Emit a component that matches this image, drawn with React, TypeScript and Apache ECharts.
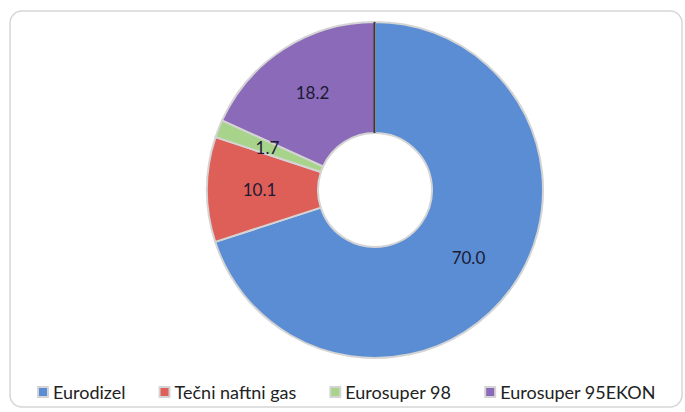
import React, { useEffect, useRef } from "react";
import * as echarts from "echarts";

const categories = ["Eurodizel", "Tečni naftni gas", "Eurosuper 98", "Eurosuper 95EKON"];
const values = [70.0, 10.1, 1.7, 18.2];
const colors = ["#5A8DD3", "#DE5E58", "#A7D38B", "#8A6AB9"];

export default function App() {
  const ref = useRef<HTMLDivElement>(null);
  useEffect(() => {
    if (!ref.current) return;
    const chart = echarts.init(ref.current, null, { renderer: "svg" });
    const font = "Lato, 'Open Sans', sans-serif";
    chart.setOption({
      animation: false,
      backgroundColor: "#ffffff",
      graphic: [
        {
          type: "rect",
          shape: { x: 10, y: 11, width: 672, height: 396, r: 12 },
          style: { fill: "none", stroke: "#d6d6d6", lineWidth: 1.5 },
          z: -1,
        },
        {
          type: "line",
          shape: { x1: 374.5, y1: 22, x2: 374.5, y2: 133 },
          style: { stroke: "#3a3a3a", lineWidth: 2 },
          z: 10,
        },
      ],
      legend: {
        bottom: 6,
        left: 32,
        icon: "rect",
        itemWidth: 10,
        itemHeight: 10,
        itemGap: 33,
        textStyle: { fontFamily: font, fontSize: 18, color: "#222" },
        data: categories,
      },
      series: [
        {
          type: "pie",
          center: [375, 190],
          radius: [57, 168],
          startAngle: 90,
          clockwise: true,
          avoidLabelOverlap: false,
          itemStyle: { borderColor: "#d4d4d4", borderWidth: 2 },
          label: {
            show: true,
            position: "inside",
            fontFamily: font,
            fontSize: 17,
            color: "#1b1b33",
            formatter: (p: any) => p.value.toFixed(1),
          },
          labelLine: { show: false },
          emphasis: { disabled: true },
          data: categories.map((name, i) => ({
            name,
            value: values[i],
            itemStyle: { color: colors[i] },
          })),
        },
      ],
      color: colors,
    });
    return () => chart.dispose();
  }, []);
  return (
    <div
      ref={ref}
      style={{ position: "absolute", left: 0, top: 0, width: 685, height: 412 }}
    />
  );
}
